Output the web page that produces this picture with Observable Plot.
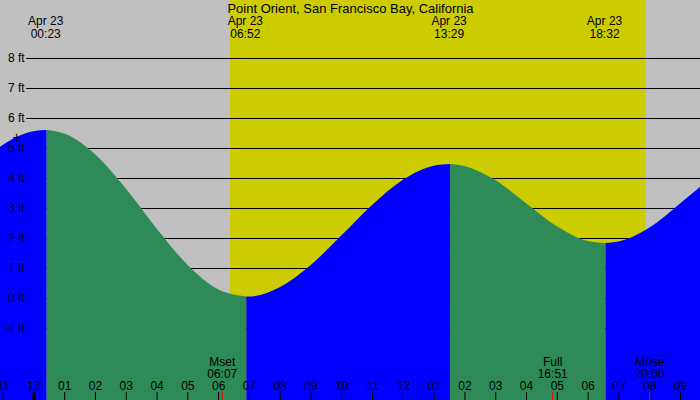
<!DOCTYPE html>
<html>
<head>
<meta charset="utf-8">
<script src="https://cdn.jsdelivr.net/npm/d3@7"></script>
<script src="https://cdn.jsdelivr.net/npm/@observablehq/plot@0.6"></script>
<style>
  html, body { margin: 0; padding: 0; background: #c0c0c0; }
  #chart svg { display: block; overflow: hidden; }
</style>
</head>
<body>
<div id="chart"></div>
<script>
// ---------- data ----------
const title = "Point Orient, San Francisco Bay, California";
const dateLabel = "Apr 23";

// tide height (ft) sampled along the curve, hours since midnight Apr 23
const tideHours = [-2, -1.5, -1, -0.5, 0, 0.43, 1, 2, 3, 4, 5, 6, 6.915, 7, 8, 9, 10, 11, 12, 13, 13.53, 14, 15, 16, 17, 18, 18.58, 19, 20, 21, 22];
const tideFeet  = [4.22, 4.70, 5.10, 5.39, 5.56, 5.60, 5.48, 4.79, 3.65, 2.32, 1.11, 0.29, 0.05, 0.05, 0.36, 1.09, 2.08, 3.10, 3.94, 4.41, 4.47, 4.40, 3.93, 3.16, 2.39, 1.90, 1.83, 1.88, 2.34, 3.15, 4.00];

// turning points of the curve (where the fill changes colour), hours
const turnHours = [0.43, 6.915, 13.53, 18.58];
// high / low tide labels
const extremeTimes = ["00:23", "06:52", "13:29", "18:32"];

// sunrise / sunset (daylight band)
const sunriseHour = 6.383;
const sunsetHour = 19.867;

// moon events
const moonNames = ["Mset", "Full", "Mrise"];
const moonTimes = ["06:07", "16:51", "20:00"];

// hour ticks
const hourTicks  = [-1, 0, 1, 2, 3, 4, 5, 6, 7, 8, 9, 10, 11, 12, 13, 14, 15, 16, 17, 18, 19, 20, 21];
const hourLabels = ["11", "12", "01", "02", "03", "04", "05", "06", "07", "08", "09", "10", "11", "12", "01", "02", "03", "04", "05", "06", "07", "08", "09"];
const midnightTicks = [0];

// feet axis
const feetTicks = [8, 7, 6, 5, 4, 3, 2, 1, 0, -1];

// marker
const markerHour = [-0.56];
const markerFeet = [5.37];

// ---------- styles ----------
const xDomain = [-1.085, 21.65];
const yDomain = [-3.4, 9.933];
const nightColor = "#c0c0c0";
const dayColor = "#cccc00";
const floodColor = "#0000ff";
const ebbColor = "#2e8b57";
const font = "Liberation Sans, Arial, sans-serif";

// ---------- build tables ----------
const toHour = s => { const [hh, mm] = s.split(":").map(Number); return hh + mm / 60; };
const tide = tideHours.map((h, i) => ({h, ft: tideFeet[i]}));
const bounds = [-Infinity, ...turnHours, Infinity];
const segments = [];
for (let i = 0; i < bounds.length - 1; i++) {
  const pts = tide.filter(d => d.h >= bounds[i] && d.h <= bounds[i + 1]);
  const rising = pts[pts.length - 1].ft > pts[0].ft;
  segments.push({pts, color: rising ? floodColor : ebbColor});
}
const extremes = extremeTimes.map(t => ({h: toHour(t), label: `${dateLabel}\n${t}`}));
const moonHours = moonTimes.map(toHour);
const moons = moonTimes.map((t, i) => ({h: toHour(t), label: `${moonNames[i]}\n${t}`}));
const hours = hourTicks.map((h, i) => ({h, label: hourLabels[i]}));
const markers = markerHour.map((h, i) => ({h, ft: markerFeet[i]}));

const chart = Plot.plot({
  width: 700,
  height: 400,
  marginTop: 0, marginBottom: 0, marginLeft: 0, marginRight: 0,
  x: {domain: xDomain, axis: null},
  y: {domain: yDomain, axis: null},
  style: {background: nightColor, fontFamily: font, color: "black"},
  marks: [
    Plot.rect([{x1: sunriseHour, x2: sunsetHour}], {x1: "x1", x2: "x2", y1: yDomain[0], y2: yDomain[1], fill: dayColor}),
    Plot.ruleY(feetTicks, {y: d => d, x1: -0.237, x2: xDomain[1], stroke: "black", strokeWidth: 1}),
    ...segments.map(s => Plot.areaY(s.pts, {x: "h", y1: yDomain[0] - 1, y2: "ft", fill: s.color, curve: "monotone-x", clip: true})),
    Plot.text(feetTicks, {x: -0.30, y: d => d, text: d => `${d} ft`, textAnchor: "end", fontSize: 12, fill: "black"}),
    Plot.text(markers, {x: "h", y: "ft", text: () => "+", fontSize: 14, fill: "black"}),
    Plot.text([title], {frameAnchor: "top", lineAnchor: "top", dy: 3, fontSize: 13, fill: "black"}),
    Plot.text(extremes, {x: "h", text: "label", frameAnchor: "top", lineAnchor: "top", dy: 15, fontSize: 12, lineHeight: 1.08, fill: "black"}),
    Plot.ruleX(hours, {x: "h", insetTop: 392, stroke: "black", strokeWidth: 1}),
    Plot.ruleX(midnightTicks, {x: d => d, insetTop: 392, stroke: "black", strokeWidth: 3}),
    Plot.ruleX(moonHours, {x: d => d, insetTop: 392, stroke: "red", strokeWidth: 1}),
    Plot.text(hours, {x: "h", text: "label", frameAnchor: "bottom", lineAnchor: "top", dy: -19, fontSize: 12, fill: "black"}),
    Plot.text(moons, {x: "h", text: "label", frameAnchor: "bottom", lineAnchor: "top", dy: -43, fontSize: 12, lineHeight: 1, fill: "black"})
  ]
});
document.getElementById("chart").appendChild(chart);
</script>
</body>
</html>
